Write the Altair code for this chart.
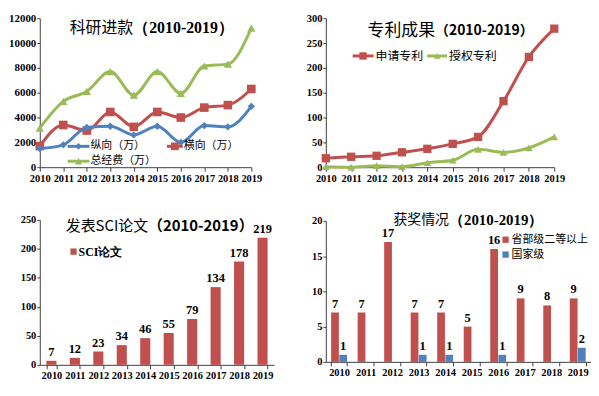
import altair as alt
import pandas as pd

years = ["2010", "2011", "2012", "2013", "2014", "2015", "2016", "2017", "2018", "2019"]

# 科研进款 (万)
fund_vertical = [1500, 1800, 3200, 3300, 2600, 3300, 2000, 3350, 3250, 4900]
fund_horizontal = [1700, 3400, 2950, 4450, 3250, 4450, 4000, 4800, 5000, 6300]
fund_total = [3150, 5300, 6100, 7700, 5800, 7700, 5950, 8150, 8300, 11200]
fund_y_ticks = [0, 2000, 4000, 6000, 8000, 10000, 12000]

# 专利成果
patent_applied = [18, 21, 23, 30, 37, 47, 61, 133, 222, 279]
patent_granted = [1, 0, 3, 1, 9, 14, 36, 30, 39, 61]
patent_y_ticks = [0, 50, 100, 150, 200, 250, 300]

# 发表SCI论文
sci_papers = [7, 12, 23, 34, 46, 55, 79, 134, 178, 219]
sci_y_ticks = [0, 50, 100, 150, 200, 250]

# 获奖情况
award_kinds = ["省部级二等以上", "国家级"]
award_provincial = [7, 7, 17, 7, 7, 5, 16, 9, 8, 9]
award_national = [1, 0, 0, 1, 1, 0, 1, 0, 0, 2]
award_y_ticks = [0, 5, 10, 15, 20]

SERIF = "Liberation Serif"
CJK = "Noto Sans CJK SC"
RED = "#C0504D"
BLUE = "#4F81BD"
GREEN = "#9BBB59"

one = pd.DataFrame({"k": [0]})


def text_at(x, y, s, size, font, weight="normal", align="left"):
    return alt.Chart(one).mark_text(
        align=align, baseline="middle", font=font, fontSize=size,
        fontWeight=weight, color="black"
    ).encode(x=alt.value(x), y=alt.value(y), text=alt.value(s))


def line_legend(x1, x2, y, color, shape, size, label, tx, fsize=11):
    rule = alt.Chart(one).mark_rule(color=color, strokeWidth=3).encode(
        x=alt.value(x1), x2=alt.value(x2), y=alt.value(y))
    pt = alt.Chart(one).mark_point(shape=shape, filled=True, size=size,
                                   color=color, opacity=1).encode(
        x=alt.value((x1 + x2) / 2), y=alt.value(y))
    return [rule, pt, text_at(tx, y, label, fsize, CJK)]


def square_legend(x, y, color, label, tx, fsize, font, weight="normal"):
    pt = alt.Chart(one).mark_square(size=40, color=color, opacity=1).encode(
        x=alt.value(x), y=alt.value(y))
    return [pt, text_at(tx, y, label, fsize, font, weight)]


def series(values, color, shape, size, ydomain, yticks, ylabel_size):
    df = pd.DataFrame({"year": years, "value": values})
    base = alt.Chart(df).encode(
        x=alt.X("year:O", scale=alt.Scale(type="point", padding=0),
                axis=alt.Axis(title=None, labelAngle=0)),
        y=alt.Y("value:Q", scale=alt.Scale(domain=ydomain, nice=False),
                axis=alt.Axis(title=None, values=yticks, format="d",
                              labelFontSize=ylabel_size)),
    )
    line = base.mark_line(color=color, strokeWidth=3, interpolate="monotone")
    pts = base.mark_point(shape=shape, filled=True, size=size, color=color, opacity=1)
    return [line, pts]


# ---------- Panel 1: 科研进款 ----------
p1_layers = (
    series(fund_total, GREEN, "triangle-up", 70, [0, 12000], fund_y_ticks, 11)
    + series(fund_horizontal, RED, "square", 75, [0, 12000], fund_y_ticks, 11)
    + series(fund_vertical, BLUE, "diamond", 55, [0, 12000], fund_y_ticks, 11)
    + [text_at(94, 10, "科研进款", 16, CJK, align="right"),
       text_at(94, 10, "（2010-2019）", 16, SERIF, weight="bold")]
    + line_legend(28, 50, 129, BLUE, "diamond", 45, "纵向（万）", 51)
    + line_legend(128, 144, 129, RED, "square", 60, "横向（万）", 145)
    + line_legend(28, 50, 144, GREEN, "triangle-up", 55, "总经费（万）", 51)
)
p1 = alt.layer(*p1_layers).properties(width=213, height=150)

# ---------- Panel 2: 专利成果 ----------
p2_layers = (
    series(patent_applied, RED, "square", 70, [0, 300], patent_y_ticks, 10.5)
    + series(patent_granted, GREEN, "triangle-up", 60, [0, 300], patent_y_ticks, 10.5)
    + [text_at(110, 13, "专利成果", 17, CJK, align="right"),
       text_at(110, 13, "（2010-2019）", 14, CJK, weight="bold")]
    + line_legend(27, 48, 38, RED, "square", 55, "申请专利", 50, 12)
    + line_legend(102, 122, 38, GREEN, "triangle-up", 45, "授权专利", 124, 12)
)
p2 = alt.layer(*p2_layers).properties(width=230, height=150)

# ---------- Panel 3: 发表SCI论文 ----------
sci_df = pd.DataFrame({"year": years, "value": sci_papers})
b3 = alt.Chart(sci_df).encode(
    x=alt.X("year:N", scale=alt.Scale(paddingInner=0.57, paddingOuter=0.28),
            axis=alt.Axis(title=None, labelAngle=0, tickBand="extent")),
    y=alt.Y("value:Q", scale=alt.Scale(domain=[0, 250], nice=False),
            axis=alt.Axis(title=None, values=sci_y_ticks, format="d")),
)
p3_layers = (
    [b3.mark_bar(color=RED),
     b3.mark_text(dy=-9, font=SERIF, fontWeight="bold", fontSize=12.5,
                  color="black").encode(text="value:Q"),
     text_at(109, 6, "发表SCI论文", 15, CJK, align="right"),
     text_at(109, 6, "（2010-2019）", 15, CJK, weight="bold")]
    + square_legend(34, 32, RED, "SCI论文", 39, 12, SERIF, "bold")
)
p3 = alt.layer(*p3_layers).properties(width=236, height=146)

# ---------- Panel 4: 获奖情况 ----------
award_df = pd.DataFrame({
    "year": years * 2,
    "kind": [award_kinds[0]] * len(years) + [award_kinds[1]] * len(years),
    "value": award_provincial + award_national,
})
b4 = alt.Chart(award_df).encode(
    x=alt.X("year:N", scale=alt.Scale(paddingInner=0.4, paddingOuter=0.2),
            axis=alt.Axis(title=None, labelAngle=0, tickBand="extent")),
    xOffset=alt.XOffset("kind:N", scale=alt.Scale(domain=award_kinds, paddingInner=0.05)),
    y=alt.Y("value:Q", scale=alt.Scale(domain=[0, 20], nice=False),
            axis=alt.Axis(title=None, values=award_y_ticks, format="d")),
)
p4_layers = (
    [b4.mark_bar().encode(color=alt.Color("kind:N", scale=alt.Scale(domain=award_kinds, range=[RED, BLUE]), legend=None)),
     b4.mark_text(dy=-9, font=SERIF, fontWeight="bold", fontSize=12.5,
                  color="black").encode(text="value:Q").transform_filter("datum.value > 0"),
     text_at(124, -1, "获奖情况", 14, CJK, align="right"),
     text_at(124, -1, "（2010-2019）", 15, SERIF, weight="bold")]
    + square_legend(181, 19, RED, "省部级二等以上", 187, 11, CJK)
    + square_legend(181, 34, BLUE, "国家级", 187, 11, CJK)
)
p4 = alt.layer(*p4_layers).properties(width=267, height=142)

left = alt.vconcat(p1, p3, spacing=31)
right = alt.vconcat(p2, p4, spacing=29)
chart = alt.hconcat(left, right, spacing=32).configure_view(stroke=None).configure_axis(
    labelFont=SERIF, labelFontWeight="bold", labelFontSize=10.5, labelColor="black",
    domainColor="#404040", tickColor="#404040", tickSize=4, grid=False, labelPadding=2,
).configure_axisY(tickSize=3, labelPadding=1).properties(
    padding={"left": 0, "top": 3, "right": 0, "bottom": 0})

chart.save("out.html", embed_options={"renderer": "svg", "actions": False})
